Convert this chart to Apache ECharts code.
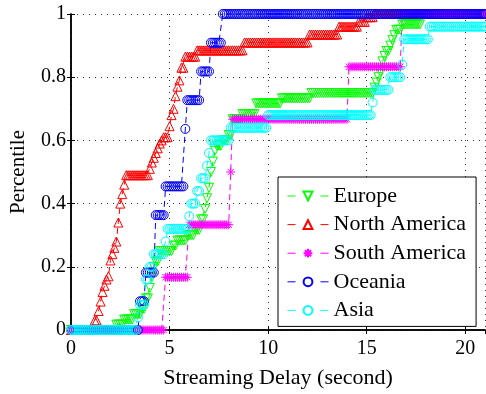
<!DOCTYPE html>
<html>
<head>
<meta charset="utf-8">
<script src="https://cdn.jsdelivr.net/npm/echarts@6/dist/echarts.min.js"></script>
<style>
  html, body { margin: 0; padding: 0; background: #fff; }
  #chart { width: 486px; height: 394px; }
</style>
</head>
<body>
<div id="chart"></div>
<script>
// Regions, in legend order
const regions = ['Europe', 'North America', 'South America', 'Oceania', 'Asia'];

// For each region: delays (s) at which the empirical CDF steps up, and the CDF value after that step
const euDelay = [2.3, 2.7, 3.15, 3.55, 3.75, 3.95, 4.05, 4.15, 4.25, 4.45, 5.15, 5.35, 5.85, 6.25, 6.55, 6.75, 6.85, 6.95, 7.05, 7.15, 7.25, 7.35, 7.65, 7.95, 8.15, 8.65, 9.35, 10.65, 12.15, 15.35, 15.45, 15.55, 15.65, 15.75, 15.85, 15.95, 16.15, 16.25, 16.35, 16.45, 16.75, 17.75];
const euCdf   = [0.017, 0.033, 0.05, 0.067, 0.1, 0.133, 0.167, 0.2, 0.217, 0.25, 0.267, 0.283, 0.3, 0.317, 0.35, 0.383, 0.417, 0.45, 0.5, 0.533, 0.567, 0.583, 0.6, 0.617, 0.667, 0.683, 0.717, 0.733, 0.75, 0.767, 0.783, 0.8, 0.817, 0.85, 0.867, 0.883, 0.9, 0.917, 0.933, 0.95, 0.967, 1];

const naDelay = [1.15, 1.35, 1.45, 1.55, 1.65, 1.75, 1.85, 1.95, 2.05, 2.15, 2.25, 2.35, 2.45, 2.55, 2.65, 2.75, 3.95, 4.05, 4.15, 4.25, 4.35, 4.45, 4.55, 4.65, 4.95, 5.05, 5.15, 5.25, 5.35, 5.45, 5.55, 5.75, 6.35, 8.75, 12.05, 13.55, 14.55, 14.95, 15.35];
const naCdf   = [0.03, 0.06, 0.09, 0.12, 0.14, 0.16, 0.17, 0.22, 0.24, 0.26, 0.28, 0.34, 0.4, 0.43, 0.46, 0.49, 0.51, 0.53, 0.545, 0.56, 0.575, 0.59, 0.6, 0.61, 0.645, 0.68, 0.7, 0.74, 0.77, 0.79, 0.83, 0.865, 0.885, 0.91, 0.935, 0.96, 0.975, 0.99, 1];

const saDelay = [4.75, 5.95, 8.05, 8.15, 14.05, 16.75];
const saCdf   = [0.167, 0.333, 0.5, 0.667, 0.833, 1];

const ocDelay = [3.45, 3.75, 4.25, 4.75, 5.75, 5.85, 6.55, 7.05, 7.65];
const ocCdf   = [0.0909, 0.1818, 0.3636, 0.4545, 0.6364, 0.7273, 0.8182, 0.9091, 1];

const asDelay = [3.35, 3.45, 3.75, 3.95, 4.15, 4.75, 4.85, 5.95, 6.05, 6.35, 6.55, 6.85, 6.95, 7.05, 8.05, 9.95, 15.25, 15.35, 16.15, 16.75, 16.85, 18.15];
const asCdf   = [0.04, 0.08, 0.16, 0.2, 0.24, 0.28, 0.32, 0.36, 0.4, 0.44, 0.48, 0.52, 0.56, 0.6, 0.64, 0.68, 0.72, 0.76, 0.8, 0.84, 0.92, 0.96];

// Axis ticks
const xTicks = [0, 5, 10, 15, 20];
const yTicks = [0, 0.2, 0.4, 0.6, 0.8, 1];

const FONT = '"Liberation Serif", "Times New Roman", serif';
const X_MAX = 21;
const SAMPLE_STEP = 0.1; // the CDF is evaluated every 0.1 s

// Evaluate a step CDF at each sample delay: value of the last step at or before x
function sampleCdf(delays, cdf) {
  const pts = [];
  const n = Math.round(X_MAX / SAMPLE_STEP);
  for (let i = 0; i <= n; i++) {
    const x = Math.round(i * SAMPLE_STEP * 10) / 10;
    let y = 0;
    for (let k = 0; k < delays.length; k++) {
      if (delays[k] <= x + 1e-9) y = cdf[k];
    }
    pts.push([x, y]);
  }
  return pts;
}

const asterisk = 'path://M5,0L5,10M0,5L10,5M1.5,1.5L8.5,8.5M1.5,8.5L8.5,1.5';

function cdfSeries(name, delays, cdf, color, symbol, rotate, size) {
  return {
    name: name,
    type: 'line',
    data: sampleCdf(delays, cdf),
    symbol: symbol,
    symbolSize: size,
    symbolRotate: rotate,
    showSymbol: true,
    showAllSymbol: true,
    clip: false,
    lineStyle: { color: color, width: 1, type: [6, 4] },
    itemStyle: { color: 'rgba(255,255,255,0)', borderColor: color, borderWidth: 1 },
    emphasis: { disabled: true }
  };
}

const chart = echarts.init(document.getElementById('chart'), null, { renderer: 'canvas' });

chart.setOption({
  animation: false,
  backgroundColor: '#fff',
  textStyle: { fontFamily: FONT },
  grid: { left: 68, right: 1, top: 14, bottom: 51, containLabel: false },
  legend: {
    orient: 'vertical',
    left: 278,
    top: 177,
    padding: [8, 10, 5, 9],
    itemGap: 6.6,
    itemWidth: 41,
    itemHeight: 11,
    borderColor: '#000',
    borderWidth: 1,
    backgroundColor: '#fff',
    lineStyle: { type: [8, 25], width: 1 },
    textStyle: { fontFamily: FONT, fontSize: 22, color: '#000', lineHeight: 22, padding: [0, 0, 0, 0] },
    data: regions,
    selectedMode: false
  },
  xAxis: [
    {
      type: 'value', min: 0, max: X_MAX, interval: 5,
      name: 'Streaming Delay (second)', nameLocation: 'middle', nameGap: 37,
      nameTextStyle: { fontFamily: FONT, fontSize: 22, color: '#000' },
      axisLine: { show: true, lineStyle: { color: '#000', width: 1.5 } },
      axisTick: { show: true, inside: true, length: 4, lineStyle: { color: '#000' } },
      axisLabel: {
        fontFamily: FONT, fontSize: 20, color: '#000', margin: 9, showMaxLabel: false,
        formatter: v => (xTicks.indexOf(v) >= 0 ? String(v) : '')
      },
      splitLine: { show: true, lineStyle: { color: '#333', width: 1, type: [1, 5] } }
    },
    {
      type: 'value', min: 0, max: X_MAX, interval: 5, position: 'top',
      axisLine: { show: true, lineStyle: { color: '#000', width: 1.5 } },
      axisTick: { show: true, inside: true, length: 4, lineStyle: { color: '#000' } },
      axisLabel: { show: false },
      splitLine: { show: false }
    }
  ],
  yAxis: [
    {
      type: 'value', min: 0, max: 1, interval: 0.2,
      name: 'Percentile', nameLocation: 'middle', nameGap: 42,
      nameTextStyle: { fontFamily: FONT, fontSize: 21, color: '#000' },
      axisLine: { show: true, lineStyle: { color: '#000', width: 1.5 } },
      axisTick: { show: true, inside: true, length: 4, lineStyle: { color: '#000' } },
      axisLabel: {
        fontFamily: FONT, fontSize: 20, color: '#000', margin: 5,
        formatter: v => {
          const t = yTicks.find(t => Math.abs(t - v) < 1e-9);
          return t === undefined ? '' : String(t);
        }
      },
      splitLine: { show: true, lineStyle: { color: '#333', width: 1, type: [1, 5] } }
    },
    {
      type: 'value', min: 0, max: 1, interval: 0.2, position: 'right',
      axisLine: { show: true, lineStyle: { color: '#000', width: 1.5 } },
      axisTick: { show: true, inside: true, length: 4, lineStyle: { color: '#000' } },
      axisLabel: { show: false },
      splitLine: { show: false }
    }
  ],
  series: [
    cdfSeries(regions[0], euDelay, euCdf, '#00ff00', 'triangle', 180, 9),
    cdfSeries(regions[1], naDelay, naCdf, '#ff0000', 'triangle', 0, 9),
    cdfSeries(regions[2], saDelay, saCdf, '#ff00ff', asterisk, 0, 9),
    cdfSeries(regions[3], ocDelay, ocCdf, '#0000ff', 'circle', 0, 9),
    cdfSeries(regions[4], asDelay, asCdf, '#00ffff', 'circle', 0, 9)
  ]
});
</script>
</body>
</html>
